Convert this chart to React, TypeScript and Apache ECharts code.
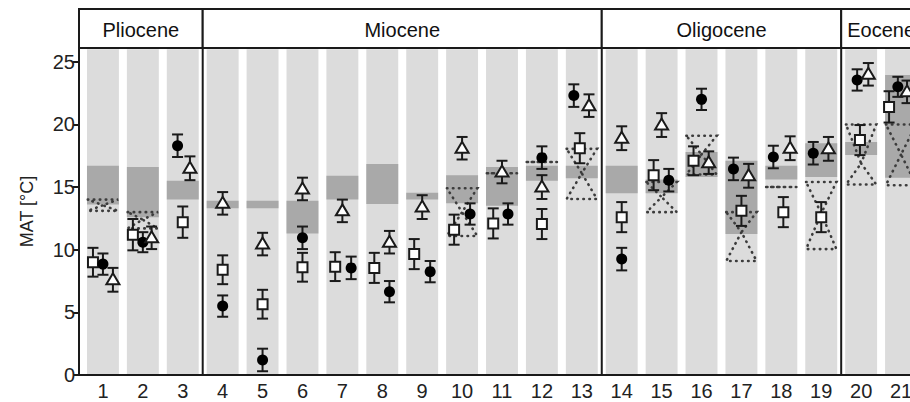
import React, { useEffect, useRef } from 'react';
import * as echarts from 'echarts';

const FONT = '"Liberation Sans", Arial, Helvetica, sans-serif';

// categories (sites) 1..21
const categories = [1, 2, 3, 4, 5, 6, 7, 8, 9, 10, 11, 12, 13, 14, 15, 16, 17, 18, 19, 20, 21];
const yTicks = [0, 5, 10, 15, 20, 25];

// epochs in header
const epochNames = ['Pliocene', 'Miocene', 'Oligocene', 'Eocene'];
const epochStart = [0.4, 3.5, 13.5, 19.5];
const epochEnd = [3.5, 13.5, 19.5, 21.5];
const epochBounds = [3.5, 13.5, 19.5];

// light grey background range (full column)
const columnTop = 26;

// dark grey boxes (range)
const darkLow = [13.6, 12.6, 14.0, 13.3, 13.3, 11.3, 14.0, 13.65, 14.0, 13.7, 13.5, 15.5, 15.7, 14.5, 14.5, 15.8, 11.25, 15.6, 15.8, 17.55, 15.75];
const darkHigh = [16.7, 16.6, 15.5, 13.9, 13.9, 13.9, 15.9, 16.85, 14.55, 15.95, 16.6, 16.7, 16.7, 16.7, 15.6, 17.8, 17.1, 16.7, 18.5, 18.6, 23.95];

// dotted hourglass intervals
const hgCat = [1, 2, 10, 11, 12, 13, 15, 16, 17, 18, 19, 20, 21];
const hgLow = [13.1, 11.7, 11.1, 16.1, 17.0, 14.05, 13.0, 16.0, 9.1, 15.0, 10.05, 15.2, 15.15];
const hgWaist = [13.55, 12.4, 13.0, 16.1, 17.0, 16.1, 14.2, 17.6, 11.4, 15.0, 12.9, 16.9, 17.6];
const hgHigh = [14.0, 13.0, 14.9, 16.1, 17.0, 18.05, 15.4, 19.1, 13.0, 15.0, 15.4, 20.0, 20.0];

// open squares
const squareMean = [9.0, 11.2, 12.2, 8.4, 5.65, 8.6, 8.65, 8.55, 9.65, 11.6, 12.1, 12.05, 18.1, 12.6, 15.95, 17.1, 13.1, 13.0, 12.6, 18.75, 21.4];
const squareErr = [1.15, 1.25, 1.25, 1.15, 1.15, 1.15, 1.15, 1.2, 1.2, 1.2, 1.2, 1.2, 1.2, 1.2, 1.2, 1.15, 1.2, 1.2, 1.2, 1.2, 1.25];
const squareShift = [-0.25, -0.25, 0, 0, 0, 0, -0.18, -0.2, -0.2, -0.2, -0.22, 0, -0.05, 0, -0.2, -0.2, 0, 0.05, 0, -0.03, -0.3];

// filled circles
const circleMean = [8.85, 10.6, 18.3, 5.5, 1.2, 10.95, 8.55, 6.65, 8.25, 12.85, 12.85, 17.35, 22.3, 9.25, 15.55, 22.0, 16.45, 17.4, 17.7, 23.55, 23.0];
const circleErr = [0.85, 0.8, 0.9, 0.85, 0.9, 0.9, 0.9, 0.85, 0.85, 0.85, 0.85, 0.9, 0.9, 0.9, 0.9, 0.85, 0.9, 0.9, 0.9, 0.85, 0.8];
const circleShift = [0, 0, -0.13, 0, 0, 0, 0.22, 0.18, 0.2, 0.2, 0.15, 0, -0.2, 0, 0.18, 0, -0.2, -0.2, -0.2, -0.1, -0.08];

// open triangles
const triangleMean = [7.6, 10.95, 16.5, 13.7, 10.45, 14.85, 13.1, 10.6, 13.4, 18.1, 16.2, 15.0, 21.5, 18.9, 19.95, 16.95, 15.9, 18.1, 18.05, 24.0, 22.6];
const triangleErr = [0.95, 0.9, 0.95, 0.9, 0.9, 0.9, 0.9, 0.9, 0.95, 0.9, 0.9, 0.95, 0.9, 0.95, 0.95, 0.9, 0.95, 0.95, 0.95, 0.9, 0.9];
const triangleShift = [0.25, 0.22, 0.18, 0, 0, 0, 0, 0.18, 0, 0, 0, 0, 0.18, 0, 0, 0.18, 0.18, 0.22, 0.18, 0.18, 0.15];

const HALF = 0.4;
const INK = '#1a1a1a';

function markerSeries(kind: string, mean: number[], err: number[], shift: number[], z: number) {
  return {
    type: 'custom',
    xAxisIndex: 0,
    yAxisIndex: 0,
    z,
    data: categories.map((c, i) => [c, mean[i], err[i], shift[i]]),
    renderItem: (params: any, api: any) => {
      const k = api.value(0) + api.value(3);
      const m = api.value(1);
      const e = api.value(2);
      const c = api.coord([k, m]);
      const t = api.coord([k, m + e]);
      const b = api.coord([k, m - e]);
      const cap = 5.5;
      const ls = { stroke: INK, lineWidth: 2 };
      const children: any[] = [
        { type: 'line', shape: { x1: t[0], y1: t[1], x2: b[0], y2: b[1] }, style: ls },
        { type: 'line', shape: { x1: t[0] - cap, y1: t[1], x2: t[0] + cap, y2: t[1] }, style: ls },
        { type: 'line', shape: { x1: b[0] - cap, y1: b[1], x2: b[0] + cap, y2: b[1] }, style: ls },
      ];
      if (kind === 'circle') {
        children.push({ type: 'circle', shape: { cx: c[0], cy: c[1], r: 5.5 }, style: { fill: '#000' } });
      } else if (kind === 'square') {
        children.push({ type: 'rect', shape: { x: c[0] - 5, y: c[1] - 5, width: 10, height: 10 }, style: { fill: '#fff', stroke: INK, lineWidth: 2 } });
      } else {
        children.push({
          type: 'polygon',
          shape: { points: [[c[0], c[1] - 6.5], [c[0] + 6.5, c[1] + 4.5], [c[0] - 6.5, c[1] + 4.5]] },
          style: { fill: '#fff', stroke: INK, lineWidth: 2, lineJoin: 'miter' },
        });
      }
      return { type: 'group', children };
    },
  };
}

export default function App() {
  const ref = useRef<HTMLDivElement>(null);
  useEffect(() => {
    if (!ref.current) return;
    const chart = echarts.init(ref.current, undefined, { renderer: 'svg' });
    const option: any = {
      animation: false,
      backgroundColor: '#fff',
      textStyle: { fontFamily: FONT },
      grid: [
        { left: 79, right: 39, top: 48, bottom: 27, show: false },
        { left: 79, right: 39, top: 9, height: 39, show: false },
      ],
      xAxis: [
        {
          gridIndex: 0, type: 'value', min: 0.4, max: 21.5, z: 10,
          axisLine: { show: true, onZero: false, lineStyle: { color: INK, width: 2 } },
          axisTick: { show: false },
          splitLine: { show: false },
          axisLabel: { customValues: categories, fontSize: 20, color: '#222', margin: 6, fontFamily: FONT },
        },
        { gridIndex: 1, type: 'value', min: 0.4, max: 21.5, show: false },
      ],
      yAxis: [
        {
          gridIndex: 0, type: 'value', min: 0, max: 26.1, z: 10,
          name: 'MAT [°C]', nameLocation: 'middle', nameGap: 43, nameRotate: 90,
          nameTextStyle: { fontSize: 18, color: '#222', fontFamily: FONT },
          axisLine: { show: true, onZero: false, lineStyle: { color: INK, width: 2 } },
          axisTick: { show: true, customValues: yTicks, length: 6, lineStyle: { color: INK, width: 2 } },
          axisLabel: { customValues: yTicks, fontSize: 20, color: '#222', margin: 4, fontFamily: FONT },
          splitLine: { show: false },
        },
        { gridIndex: 1, type: 'value', min: 0, max: 1, show: false },
      ],
      series: [
        {
          type: 'custom', xAxisIndex: 0, yAxisIndex: 0, z: 1,
          data: categories.map((c) => [c, columnTop]),
          renderItem: (params: any, api: any) => {
            const k = api.value(0);
            const p1 = api.coord([k - HALF, api.value(1)]);
            const p2 = api.coord([k + HALF, 0]);
            return { type: 'rect', shape: { x: p1[0], y: p1[1], width: p2[0] - p1[0], height: p2[1] - p1[1] }, style: { fill: '#dcdcdc' } };
          },
        },
        {
          type: 'custom', xAxisIndex: 0, yAxisIndex: 0, z: 2,
          data: categories.map((c, i) => [c, darkLow[i], darkHigh[i]]),
          renderItem: (params: any, api: any) => {
            const k = api.value(0);
            const p1 = api.coord([k - HALF, api.value(2)]);
            const p2 = api.coord([k + HALF, api.value(1)]);
            return { type: 'rect', shape: { x: p1[0], y: p1[1], width: p2[0] - p1[0], height: p2[1] - p1[1] }, style: { fill: '#a9a9a9' } };
          },
        },
        {
          type: 'custom', xAxisIndex: 0, yAxisIndex: 0, z: 3,
          data: epochBounds.map((b) => [b, 26.1]),
          renderItem: (params: any, api: any) => {
            const p1 = api.coord([api.value(0), api.value(1)]);
            const p2 = api.coord([api.value(0), 0]);
            return { type: 'line', shape: { x1: p1[0], y1: p1[1], x2: p2[0], y2: p2[1] }, style: { stroke: INK, lineWidth: 2 } };
          },
        },
        {
          type: 'custom', xAxisIndex: 0, yAxisIndex: 0, z: 4,
          data: hgCat.map((c, i) => [c, hgLow[i], hgWaist[i], hgHigh[i]]),
          renderItem: (params: any, api: any) => {
            const k = api.value(0);
            const lo = api.value(1), mid = api.value(2), hi = api.value(3);
            const w = 0.38;
            const pts = [
              api.coord([k - w, hi]), api.coord([k + w, hi]), api.coord([k, mid]),
              api.coord([k + w, lo]), api.coord([k - w, lo]), api.coord([k, mid]),
            ];
            return {
              type: 'polygon',
              shape: { points: pts },
              style: { fill: 'none', stroke: '#3c3c3c', lineWidth: 2.6, lineDash: [0.5, 5.5], lineCap: 'round' },
            };
          },
        },
        markerSeries('square', squareMean, squareErr, squareShift, 5),
        markerSeries('circle', circleMean, circleErr, circleShift, 6),
        markerSeries('triangle', triangleMean, triangleErr, triangleShift, 7),
        {
          type: 'custom', xAxisIndex: 1, yAxisIndex: 1, z: 8,
          data: epochNames.map((n, i) => [epochStart[i], epochEnd[i]]),
          renderItem: (params: any, api: any) => {
            const p1 = api.coord([api.value(0), 1]);
            const p2 = api.coord([api.value(1), 0]);
            return {
              type: 'group',
              children: [
                { type: 'rect', shape: { x: p1[0], y: p1[1], width: p2[0] - p1[0], height: p2[1] - p1[1] }, style: { fill: '#fff', stroke: INK, lineWidth: 2 } },
                {
                  type: 'text', x: (p1[0] + p2[0]) / 2, y: (p1[1] + p2[1]) / 2 + 1,
                  style: { text: epochNames[params.dataIndex], fontSize: 20, fill: '#111', align: 'center', verticalAlign: 'middle', fontFamily: FONT },
                },
              ],
            };
          },
        },
      ],
    };
    chart.setOption(option);
    return () => chart.dispose();
  }, []);
  return (
    <div style={{ position: 'absolute', left: 0, top: 0, width: 910, height: 402, overflow: 'hidden', background: '#fff' }}>
      <div ref={ref} style={{ width: 960, height: 402 }} />
    </div>
  );
}
